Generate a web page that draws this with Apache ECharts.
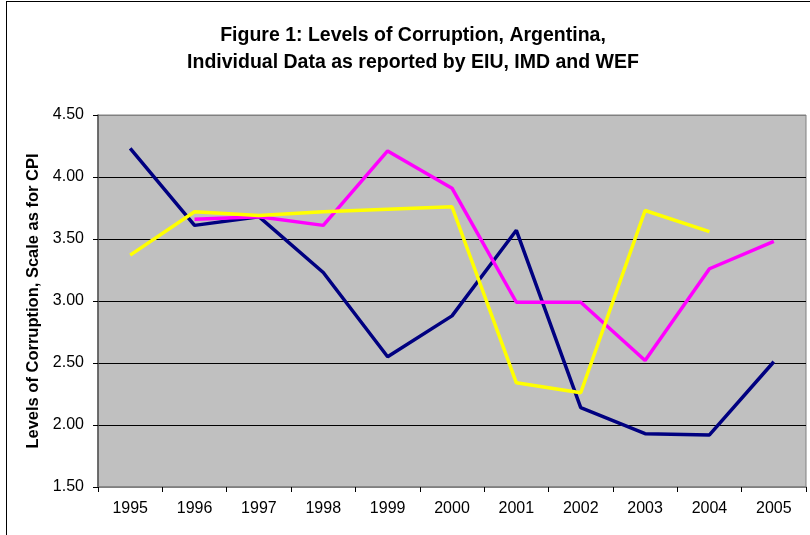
<!DOCTYPE html>
<html>
<head>
<meta charset="utf-8">
<script src="https://cdn.jsdelivr.net/npm/echarts@6/dist/echarts.min.js"></script>
<style>
  html, body { margin: 0; padding: 0; background: #fff; overflow: hidden; }
  #frame { position: absolute; left: 6px; top: 1px; width: 900px; height: 600px; border: 1px solid #000; }
  #chart { position: absolute; left: 0; top: 0; width: 810px; height: 535px; }
</style>
</head>
<body>
<div id="frame"></div>
<div id="chart"></div>
<script>
  // years on the x axis
  var years = ['1995', '1996', '1997', '1998', '1999', '2000', '2001', '2002', '2003', '2004', '2005']
  // three sources, null where no value
  var navySeries = [4.23, 3.61, 3.68, 3.23, 2.55, 2.88, 3.57, 2.14, 1.93, 1.92, 2.51]
  var magentaSeries = [null, 3.66, 3.68, 3.61, 4.21, 3.91, 2.99, 2.99, 2.52, 3.26, 3.48]
  var yellowSeries = [3.37, 3.72, 3.69, 3.72, 3.74, 3.76, 2.34, 2.26, 3.73, 3.56, null]

  var font = '"Liberation Sans", Arial, sans-serif'

  function lineSeries(data, color) {
    return {
      type: 'line',
      data: data,
      symbol: 'none',
      connectNulls: false,
      lineStyle: { color: color, width: 3.5 },
      itemStyle: { color: color }
    }
  }

  var myChart = echarts.init(document.getElementById('chart'))
  var option = {
    animation: false,
    textStyle: { fontFamily: font },
    title: {
      text: 'Figure 1: Levels of Corruption, Argentina,\nIndividual Data as reported by EIU, IMD and WEF',
      left: 408,
      top: 17,
      textAlign: 'center',
      textStyle: { fontFamily: font, fontSize: 19.5, fontWeight: 'bold', color: '#000', lineHeight: 27 }
    },
    grid: {
      left: 98,
      top: 115,
      right: 4,
      bottom: 48,
      show: true,
      backgroundColor: '#c0c0c0',
      borderColor: '#808080',
      borderWidth: 1
    },
    xAxis: {
      type: 'category',
      data: years,
      boundaryGap: true,
      axisLine: { lineStyle: { color: '#808080', width: 1.5 } },
      axisTick: { show: true, length: 5, lineStyle: { color: '#000' } },
      axisLabel: { color: '#000', fontSize: 16, margin: 14, fontFamily: font }
    },
    yAxis: {
      type: 'value',
      min: 1.5,
      max: 4.5,
      interval: 0.5,
      name: 'Levels of Corruption, Scale as for CPI',
      nameLocation: 'middle',
      nameGap: 54,
      nameTextStyle: { fontFamily: font, fontSize: 16.5, fontWeight: 'bold', color: '#000' },
      axisLine: { show: true, lineStyle: { color: '#555', width: 1.5 } },
      axisTick: { show: true, length: 5, lineStyle: { color: '#000' } },
      axisLabel: {
        color: '#000', fontSize: 16, margin: 14, fontFamily: font,
        formatter: function (v) { return v.toFixed(2) }
      },
      splitLine: {
        show: true,
        lineStyle: { color: ['#808080', '#000', '#000', '#000', '#000', '#000', '#808080'], width: 1 }
      }
    },
    series: [
      lineSeries(navySeries, '#000080'),
      lineSeries(magentaSeries, '#ff00ff'),
      lineSeries(yellowSeries, '#ffff00')
    ]
  }
  myChart.setOption(option)
</script>
</body>
</html>
